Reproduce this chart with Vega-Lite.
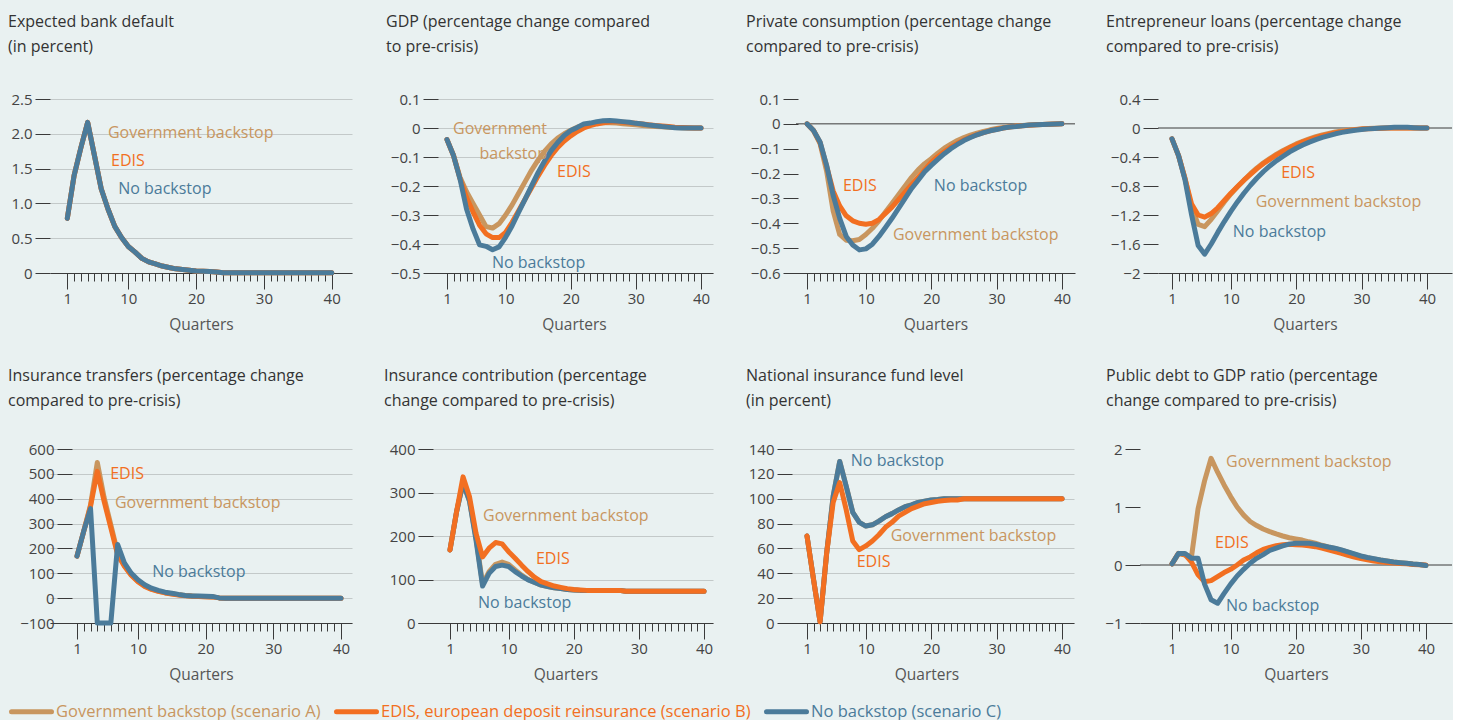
{
"$schema": "https://vega.github.io/schema/vega-lite/v6.json",
"background": "#e9f1f1",
"padding": {"left": 8, "top": 13, "right": 0, "bottom": 0},
"config": {
  "font": "Open Sans",
  "view": {"stroke": null},
  "title": {"anchor": "start", "frame": "group", "fontSize": 16, "fontWeight": "normal", "color": "#333333", "lineHeight": 25, "offset": 37.5},
  "axis": {"labelFontSize": 15, "labelColor": "#444444", "titleFontSize": 15.5, "titleFontWeight": "normal", "titleColor": "#555555", "tickCount": 100},
  "axisY": {"domain": false, "tickSize": 15, "tickColor": "#3a3a3a", "gridColor": "#c3c9c9", "labelPadding": 3, "title": null, "labelOverlap": false},
  "axisX": {"grid": false, "domainColor": "#3a3a3a", "tickColor": "#3a3a3a", "labelPadding": 2, "titlePadding": 11, "labelOverlap": false, "labelFlush": false}
},
"datasets": {
"lines": [
{"p":1,"q":1,"gov":0.785,"edis":0.785,"none":0.785},{"p":1,"q":2,"gov":1.4,"edis":1.4,"none":1.4},{"p":1,"q":3,"gov":1.8,"edis":1.8,"none":1.8},{"p":1,"q":4,"gov":2.165,"edis":2.165,"none":2.165},{"p":1,"q":5,"gov":1.69,"edis":1.69,"none":1.69},{"p":1,"q":6,"gov":1.21,"edis":1.21,"none":1.21},{"p":1,"q":7,"gov":0.92,"edis":0.92,"none":0.92},{"p":1,"q":8,"gov":0.67,"edis":0.67,"none":0.67},{"p":1,"q":9,"gov":0.51,"edis":0.51,"none":0.51},{"p":1,"q":10,"gov":0.38,"edis":0.38,"none":0.38},
{"p":1,"q":11,"gov":0.3,"edis":0.3,"none":0.3},{"p":1,"q":12,"gov":0.21,"edis":0.21,"none":0.21},{"p":1,"q":13,"gov":0.16,"edis":0.16,"none":0.16},{"p":1,"q":14,"gov":0.13,"edis":0.13,"none":0.13},{"p":1,"q":15,"gov":0.1,"edis":0.1,"none":0.1},{"p":1,"q":16,"gov":0.08,"edis":0.08,"none":0.08},{"p":1,"q":17,"gov":0.06,"edis":0.06,"none":0.06},{"p":1,"q":18,"gov":0.05,"edis":0.05,"none":0.05},{"p":1,"q":19,"gov":0.04,"edis":0.04,"none":0.04},{"p":1,"q":20,"gov":0.03,"edis":0.03,"none":0.03},
{"p":1,"q":21,"gov":0.025,"edis":0.025,"none":0.025},{"p":1,"q":22,"gov":0.02,"edis":0.02,"none":0.02},{"p":1,"q":23,"gov":0.015,"edis":0.015,"none":0.015},{"p":1,"q":24,"gov":0.005,"edis":0.005,"none":0.005},{"p":1,"q":25,"gov":0.005,"edis":0.005,"none":0.005},{"p":1,"q":26,"gov":0.005,"edis":0.005,"none":0.005},{"p":1,"q":27,"gov":0.005,"edis":0.005,"none":0.005},{"p":1,"q":28,"gov":0.005,"edis":0.005,"none":0.005},{"p":1,"q":29,"gov":0.005,"edis":0.005,"none":0.005},{"p":1,"q":30,"gov":0.005,"edis":0.005,"none":0.005},
{"p":1,"q":31,"gov":0.005,"edis":0.005,"none":0.005},{"p":1,"q":32,"gov":0.005,"edis":0.005,"none":0.005},{"p":1,"q":33,"gov":0.005,"edis":0.005,"none":0.005},{"p":1,"q":34,"gov":0.005,"edis":0.005,"none":0.005},{"p":1,"q":35,"gov":0.005,"edis":0.005,"none":0.005},{"p":1,"q":36,"gov":0.005,"edis":0.005,"none":0.005},{"p":1,"q":37,"gov":0.005,"edis":0.005,"none":0.005},{"p":1,"q":38,"gov":0.005,"edis":0.005,"none":0.005},{"p":1,"q":39,"gov":0.005,"edis":0.005,"none":0.005},{"p":1,"q":40,"gov":0.005,"edis":0.005,"none":0.005},

{"p":2,"q":1,"gov":-0.04,"edis":-0.04,"none":-0.04},{"p":2,"q":2,"gov":-0.095,"edis":-0.095,"none":-0.095},{"p":2,"q":3,"gov":-0.17,"edis":-0.175,"none":-0.176},{"p":2,"q":4,"gov":-0.22,"edis":-0.24,"none":-0.279},{"p":2,"q":5,"gov":-0.26,"edis":-0.29,"none":-0.348},{"p":2,"q":6,"gov":-0.3,"edis":-0.335,"none":-0.403},{"p":2,"q":7,"gov":-0.34,"edis":-0.365,"none":-0.408},{"p":2,"q":8,"gov":-0.345,"edis":-0.378,"none":-0.42},{"p":2,"q":9,"gov":-0.33,"edis":-0.378,"none":-0.41},{"p":2,"q":10,"gov":-0.3,"edis":-0.36,"none":-0.377},
{"p":2,"q":11,"gov":-0.265,"edis":-0.325,"none":-0.337},{"p":2,"q":12,"gov":-0.225,"edis":-0.285,"none":-0.29},{"p":2,"q":13,"gov":-0.185,"edis":-0.245,"none":-0.245},{"p":2,"q":14,"gov":-0.145,"edis":-0.205,"none":-0.199},{"p":2,"q":15,"gov":-0.11,"edis":-0.165,"none":-0.153},{"p":2,"q":16,"gov":-0.08,"edis":-0.128,"none":-0.113},{"p":2,"q":17,"gov":-0.055,"edis":-0.095,"none":-0.078},{"p":2,"q":18,"gov":-0.035,"edis":-0.067,"none":-0.05},{"p":2,"q":19,"gov":-0.02,"edis":-0.045,"none":-0.026},{"p":2,"q":20,"gov":-0.008,"edis":-0.027,"none":-0.009},
{"p":2,"q":21,"gov":0.003,"edis":-0.012,"none":0.002},{"p":2,"q":22,"gov":0.01,"edis":0,"none":0.014},{"p":2,"q":23,"gov":0.014,"edis":0.008,"none":0.017},{"p":2,"q":24,"gov":0.017,"edis":0.014,"none":0.022},{"p":2,"q":25,"gov":0.018,"edis":0.018,"none":0.025},{"p":2,"q":26,"gov":0.018,"edis":0.021,"none":0.026},{"p":2,"q":27,"gov":0.017,"edis":0.022,"none":0.024},{"p":2,"q":28,"gov":0.015,"edis":0.02,"none":0.022},{"p":2,"q":29,"gov":0.013,"edis":0.018,"none":0.02},{"p":2,"q":30,"gov":0.011,"edis":0.016,"none":0.016},
{"p":2,"q":31,"gov":0.009,"edis":0.014,"none":0.014},{"p":2,"q":32,"gov":0.007,"edis":0.011,"none":0.01},{"p":2,"q":33,"gov":0.005,"edis":0.009,"none":0.008},{"p":2,"q":34,"gov":0.004,"edis":0.007,"none":0.005},{"p":2,"q":35,"gov":0.003,"edis":0.005,"none":0.003},{"p":2,"q":36,"gov":0.002,"edis":0.003,"none":0.001},{"p":2,"q":37,"gov":0.001,"edis":0.002,"none":0},{"p":2,"q":38,"gov":0,"edis":0.001,"none":0},{"p":2,"q":39,"gov":0,"edis":0,"none":0},{"p":2,"q":40,"gov":0,"edis":0,"none":0},

{"p":3,"q":1,"gov":0,"edis":0,"none":0},{"p":3,"q":2,"gov":-0.027,"edis":-0.027,"none":-0.027},{"p":3,"q":3,"gov":-0.08,"edis":-0.075,"none":-0.073},{"p":3,"q":4,"gov":-0.19,"edis":-0.17,"none":-0.167},{"p":3,"q":5,"gov":-0.35,"edis":-0.27,"none":-0.287},{"p":3,"q":6,"gov":-0.445,"edis":-0.33,"none":-0.38},{"p":3,"q":7,"gov":-0.468,"edis":-0.37,"none":-0.453},{"p":3,"q":8,"gov":-0.47,"edis":-0.39,"none":-0.487},{"p":3,"q":9,"gov":-0.465,"edis":-0.4,"none":-0.507},{"p":3,"q":10,"gov":-0.445,"edis":-0.404,"none":-0.503},
{"p":3,"q":11,"gov":-0.42,"edis":-0.4,"none":-0.484},{"p":3,"q":12,"gov":-0.39,"edis":-0.385,"none":-0.453},{"p":3,"q":13,"gov":-0.355,"edis":-0.36,"none":-0.417},{"p":3,"q":14,"gov":-0.32,"edis":-0.335,"none":-0.38},{"p":3,"q":15,"gov":-0.285,"edis":-0.305,"none":-0.34},{"p":3,"q":16,"gov":-0.25,"edis":-0.275,"none":-0.3},{"p":3,"q":17,"gov":-0.215,"edis":-0.245,"none":-0.26},{"p":3,"q":18,"gov":-0.185,"edis":-0.215,"none":-0.227},{"p":3,"q":19,"gov":-0.16,"edis":-0.185,"none":-0.193},{"p":3,"q":20,"gov":-0.14,"edis":-0.155,"none":-0.167},
{"p":3,"q":21,"gov":-0.118,"edis":-0.132,"none":-0.143},{"p":3,"q":22,"gov":-0.098,"edis":-0.112,"none":-0.12},{"p":3,"q":23,"gov":-0.082,"edis":-0.094,"none":-0.1},{"p":3,"q":24,"gov":-0.067,"edis":-0.079,"none":-0.083},{"p":3,"q":25,"gov":-0.055,"edis":-0.065,"none":-0.067},{"p":3,"q":26,"gov":-0.045,"edis":-0.053,"none":-0.055},{"p":3,"q":27,"gov":-0.037,"edis":-0.043,"none":-0.044},{"p":3,"q":28,"gov":-0.03,"edis":-0.035,"none":-0.035},{"p":3,"q":29,"gov":-0.024,"edis":-0.028,"none":-0.028},{"p":3,"q":30,"gov":-0.019,"edis":-0.022,"none":-0.023},
{"p":3,"q":31,"gov":-0.015,"edis":-0.017,"none":-0.017},{"p":3,"q":32,"gov":-0.012,"edis":-0.013,"none":-0.013},{"p":3,"q":33,"gov":-0.009,"edis":-0.01,"none":-0.011},{"p":3,"q":34,"gov":-0.007,"edis":-0.008,"none":-0.008},{"p":3,"q":35,"gov":-0.005,"edis":-0.006,"none":-0.005},{"p":3,"q":36,"gov":-0.004,"edis":-0.004,"none":-0.004},{"p":3,"q":37,"gov":-0.003,"edis":-0.003,"none":-0.003},{"p":3,"q":38,"gov":-0.002,"edis":-0.002,"none":-0.002},{"p":3,"q":39,"gov":-0.001,"edis":-0.001,"none":-0.001},{"p":3,"q":40,"gov":0,"edis":0,"none":0},

{"p":4,"q":1,"gov":-0.15,"edis":-0.15,"none":-0.15},{"p":4,"q":2,"gov":-0.38,"edis":-0.38,"none":-0.38},{"p":4,"q":3,"gov":-0.7,"edis":-0.7,"none":-0.72},{"p":4,"q":4,"gov":-1.1,"edis":-1.05,"none":-1.2},{"p":4,"q":5,"gov":-1.33,"edis":-1.2,"none":-1.62},{"p":4,"q":6,"gov":-1.36,"edis":-1.23,"none":-1.74},{"p":4,"q":7,"gov":-1.26,"edis":-1.18,"none":-1.6},{"p":4,"q":8,"gov":-1.14,"edis":-1.1,"none":-1.44},{"p":4,"q":9,"gov":-1.02,"edis":-1.0,"none":-1.29},{"p":4,"q":10,"gov":-0.91,"edis":-0.9,"none":-1.15},
{"p":4,"q":11,"gov":-0.81,"edis":-0.81,"none":-1.02},{"p":4,"q":12,"gov":-0.72,"edis":-0.72,"none":-0.9},{"p":4,"q":13,"gov":-0.63,"edis":-0.64,"none":-0.79},{"p":4,"q":14,"gov":-0.55,"edis":-0.56,"none":-0.69},{"p":4,"q":15,"gov":-0.48,"edis":-0.49,"none":-0.6},{"p":4,"q":16,"gov":-0.42,"edis":-0.43,"none":-0.52},{"p":4,"q":17,"gov":-0.36,"edis":-0.37,"none":-0.45},{"p":4,"q":18,"gov":-0.31,"edis":-0.32,"none":-0.39},{"p":4,"q":19,"gov":-0.265,"edis":-0.27,"none":-0.33},{"p":4,"q":20,"gov":-0.22,"edis":-0.23,"none":-0.28},
{"p":4,"q":21,"gov":-0.185,"edis":-0.19,"none":-0.235},{"p":4,"q":22,"gov":-0.15,"edis":-0.16,"none":-0.195},{"p":4,"q":23,"gov":-0.12,"edis":-0.13,"none":-0.16},{"p":4,"q":24,"gov":-0.095,"edis":-0.105,"none":-0.13},{"p":4,"q":25,"gov":-0.075,"edis":-0.085,"none":-0.105},{"p":4,"q":26,"gov":-0.055,"edis":-0.065,"none":-0.08},{"p":4,"q":27,"gov":-0.04,"edis":-0.05,"none":-0.06},{"p":4,"q":28,"gov":-0.03,"edis":-0.035,"none":-0.045},{"p":4,"q":29,"gov":-0.02,"edis":-0.025,"none":-0.03},{"p":4,"q":30,"gov":-0.012,"edis":-0.015,"none":-0.02},
{"p":4,"q":31,"gov":-0.008,"edis":-0.01,"none":-0.012},{"p":4,"q":32,"gov":-0.005,"edis":-0.006,"none":-0.006},{"p":4,"q":33,"gov":-0.003,"edis":-0.003,"none":0},{"p":4,"q":34,"gov":-0.001,"edis":-0.001,"none":0.005},{"p":4,"q":35,"gov":0,"edis":0,"none":0.01},{"p":4,"q":36,"gov":0,"edis":0,"none":0.012},{"p":4,"q":37,"gov":0,"edis":0,"none":0.01},{"p":4,"q":38,"gov":0,"edis":0,"none":0.005},{"p":4,"q":39,"gov":0,"edis":0,"none":0},{"p":4,"q":40,"gov":0,"edis":0,"none":0},

{"p":5,"q":1,"gov":169,"edis":169,"none":169},{"p":5,"q":2,"gov":270,"edis":270,"none":270},{"p":5,"q":3,"gov":375,"edis":370,"none":360},{"p":5,"q":4,"gov":546,"edis":510,"none":-100},{"p":5,"q":5,"gov":405,"edis":390,"none":-100},{"p":5,"q":6,"gov":295,"edis":283,"none":-100},{"p":5,"q":7,"gov":182,"edis":175,"none":216},{"p":5,"q":8,"gov":132,"edis":128,"none":142},{"p":5,"q":9,"gov":95,"edis":92,"none":101},{"p":5,"q":10,"gov":68,"edis":66,"none":74},
{"p":5,"q":11,"gov":49,"edis":47,"none":54},{"p":5,"q":12,"gov":37,"edis":35,"none":40},{"p":5,"q":13,"gov":28,"edis":27,"none":31},{"p":5,"q":14,"gov":22,"edis":21,"none":24},{"p":5,"q":15,"gov":18,"edis":17,"none":20},{"p":5,"q":16,"gov":14,"edis":13,"none":15},{"p":5,"q":17,"gov":11,"edis":10,"none":11},{"p":5,"q":18,"gov":9,"edis":8,"none":9},{"p":5,"q":19,"gov":7,"edis":7,"none":9},{"p":5,"q":20,"gov":6,"edis":6,"none":8},
{"p":5,"q":21,"gov":5,"edis":5,"none":7},{"p":5,"q":22,"gov":1,"edis":1,"none":1},{"p":5,"q":23,"gov":0,"edis":0,"none":0},{"p":5,"q":24,"gov":0,"edis":0,"none":0},{"p":5,"q":25,"gov":0,"edis":0,"none":0},{"p":5,"q":26,"gov":0,"edis":0,"none":0},{"p":5,"q":27,"gov":0,"edis":0,"none":0},{"p":5,"q":28,"gov":0,"edis":0,"none":0},{"p":5,"q":29,"gov":0,"edis":0,"none":0},{"p":5,"q":30,"gov":0,"edis":0,"none":0},
{"p":5,"q":31,"gov":0,"edis":0,"none":0},{"p":5,"q":32,"gov":0,"edis":0,"none":0},{"p":5,"q":33,"gov":0,"edis":0,"none":0},{"p":5,"q":34,"gov":0,"edis":0,"none":0},{"p":5,"q":35,"gov":0,"edis":0,"none":0},{"p":5,"q":36,"gov":0,"edis":0,"none":0},{"p":5,"q":37,"gov":0,"edis":0,"none":0},{"p":5,"q":38,"gov":0,"edis":0,"none":0},{"p":5,"q":39,"gov":0,"edis":0,"none":0},{"p":5,"q":40,"gov":0,"edis":0,"none":0},

{"p":6,"q":1,"gov":168,"edis":168,"none":168},{"p":6,"q":2,"gov":255,"edis":255,"none":255},{"p":6,"q":3,"gov":322,"edis":336,"none":322},{"p":6,"q":4,"gov":280,"edis":290,"none":280},{"p":6,"q":5,"gov":195,"edis":206,"none":190},{"p":6,"q":6,"gov":90,"edis":152,"none":85},{"p":6,"q":7,"gov":118,"edis":172,"none":114},{"p":6,"q":8,"gov":135,"edis":185,"none":130},{"p":6,"q":9,"gov":140,"edis":182,"none":133},{"p":6,"q":10,"gov":135,"edis":164,"none":130},
{"p":6,"q":11,"gov":122,"edis":149,"none":118},{"p":6,"q":12,"gov":110,"edis":133,"none":108},{"p":6,"q":13,"gov":100,"edis":118,"none":99},{"p":6,"q":14,"gov":93,"edis":105,"none":93},{"p":6,"q":15,"gov":87,"edis":95,"none":87},{"p":6,"q":16,"gov":84,"edis":90,"none":84},{"p":6,"q":17,"gov":81,"edis":85,"none":81},{"p":6,"q":18,"gov":79,"edis":82,"none":79},{"p":6,"q":19,"gov":77,"edis":79,"none":77},{"p":6,"q":20,"gov":76,"edis":77,"none":76},
{"p":6,"q":21,"gov":75,"edis":76,"none":75},{"p":6,"q":22,"gov":75,"edis":75,"none":75},{"p":6,"q":23,"gov":75,"edis":75,"none":75},{"p":6,"q":24,"gov":75,"edis":75,"none":75},{"p":6,"q":25,"gov":75,"edis":75,"none":75},{"p":6,"q":26,"gov":75,"edis":75,"none":75},{"p":6,"q":27,"gov":75,"edis":75,"none":75},{"p":6,"q":28,"gov":73,"edis":73,"none":73},{"p":6,"q":29,"gov":73,"edis":73,"none":73},{"p":6,"q":30,"gov":73,"edis":73,"none":73},
{"p":6,"q":31,"gov":73,"edis":73,"none":73},{"p":6,"q":32,"gov":73,"edis":73,"none":73},{"p":6,"q":33,"gov":73,"edis":73,"none":73},{"p":6,"q":34,"gov":73,"edis":73,"none":73},{"p":6,"q":35,"gov":73,"edis":73,"none":73},{"p":6,"q":36,"gov":73,"edis":73,"none":73},{"p":6,"q":37,"gov":73,"edis":73,"none":73},{"p":6,"q":38,"gov":73,"edis":73,"none":73},{"p":6,"q":39,"gov":73,"edis":73,"none":73},{"p":6,"q":40,"gov":73,"edis":73,"none":73},

{"p":7,"q":1,"gov":70,"edis":70,"none":70},{"p":7,"q":2,"gov":35,"edis":35,"none":35},{"p":7,"q":3,"gov":1,"edis":1,"none":1},{"p":7,"q":4,"gov":56,"edis":56,"none":56},{"p":7,"q":5,"gov":102,"edis":97,"none":102},{"p":7,"q":6,"gov":130,"edis":113,"none":130},{"p":7,"q":7,"gov":110,"edis":91,"none":110},{"p":7,"q":8,"gov":89,"edis":66,"none":89},{"p":7,"q":9,"gov":81,"edis":59,"none":81},{"p":7,"q":10,"gov":78,"edis":62,"none":78},
{"p":7,"q":11,"gov":79,"edis":66,"none":79},{"p":7,"q":12,"gov":82,"edis":71,"none":82},{"p":7,"q":13,"gov":85.5,"edis":77,"none":85.5},{"p":7,"q":14,"gov":88,"edis":81,"none":88},{"p":7,"q":15,"gov":91,"edis":86,"none":91},{"p":7,"q":16,"gov":93.6,"edis":89,"none":93.6},{"p":7,"q":17,"gov":95,"edis":92,"none":95},{"p":7,"q":18,"gov":97,"edis":94,"none":97},{"p":7,"q":19,"gov":98,"edis":96,"none":98},{"p":7,"q":20,"gov":99,"edis":97,"none":99},
{"p":7,"q":21,"gov":99.3,"edis":98,"none":99.3},{"p":7,"q":22,"gov":100,"edis":98.5,"none":100},{"p":7,"q":23,"gov":100,"edis":99,"none":100},{"p":7,"q":24,"gov":100,"edis":99,"none":100},{"p":7,"q":25,"gov":100,"edis":100,"none":100},{"p":7,"q":26,"gov":100,"edis":100,"none":100},{"p":7,"q":27,"gov":100,"edis":100,"none":100},{"p":7,"q":28,"gov":100,"edis":100,"none":100},{"p":7,"q":29,"gov":100,"edis":100,"none":100},{"p":7,"q":30,"gov":100,"edis":100,"none":100},
{"p":7,"q":31,"gov":100,"edis":100,"none":100},{"p":7,"q":32,"gov":100,"edis":100,"none":100},{"p":7,"q":33,"gov":100,"edis":100,"none":100},{"p":7,"q":34,"gov":100,"edis":100,"none":100},{"p":7,"q":35,"gov":100,"edis":100,"none":100},{"p":7,"q":36,"gov":100,"edis":100,"none":100},{"p":7,"q":37,"gov":100,"edis":100,"none":100},{"p":7,"q":38,"gov":100,"edis":100,"none":100},{"p":7,"q":39,"gov":100,"edis":100,"none":100},{"p":7,"q":40,"gov":100,"edis":100,"none":100},

{"p":8,"q":1,"gov":0.02,"edis":0.02,"none":0.02},{"p":8,"q":2,"gov":0.2,"edis":0.2,"none":0.2},{"p":8,"q":3,"gov":0.17,"edis":0.18,"none":0.2},{"p":8,"q":4,"gov":0.15,"edis":0.05,"none":0.115},{"p":8,"q":5,"gov":0.97,"edis":-0.17,"none":0.115},{"p":8,"q":6,"gov":1.45,"edis":-0.29,"none":-0.33},{"p":8,"q":7,"gov":1.84,"edis":-0.27,"none":-0.6},{"p":8,"q":8,"gov":1.6,"edis":-0.2,"none":-0.66},{"p":8,"q":9,"gov":1.38,"edis":-0.13,"none":-0.49},{"p":8,"q":10,"gov":1.18,"edis":-0.075,"none":-0.33},
{"p":8,"q":11,"gov":1.0,"edis":0,"none":-0.19},{"p":8,"q":12,"gov":0.86,"edis":0.086,"none":-0.075},{"p":8,"q":13,"gov":0.75,"edis":0.14,"none":0.03},{"p":8,"q":14,"gov":0.68,"edis":0.21,"none":0.115},{"p":8,"q":15,"gov":0.62,"edis":0.27,"none":0.18},{"p":8,"q":16,"gov":0.575,"edis":0.305,"none":0.25},{"p":8,"q":17,"gov":0.535,"edis":0.333,"none":0.29},{"p":8,"q":18,"gov":0.5,"edis":0.35,"none":0.33},{"p":8,"q":19,"gov":0.47,"edis":0.356,"none":0.36},{"p":8,"q":20,"gov":0.45,"edis":0.35,"none":0.375},
{"p":8,"q":21,"gov":0.43,"edis":0.345,"none":0.375},{"p":8,"q":22,"gov":0.4,"edis":0.333,"none":0.375},{"p":8,"q":23,"gov":0.375,"edis":0.316,"none":0.36},{"p":8,"q":24,"gov":0.34,"edis":0.29,"none":0.335},{"p":8,"q":25,"gov":0.31,"edis":0.26,"none":0.31},{"p":8,"q":26,"gov":0.285,"edis":0.23,"none":0.29},{"p":8,"q":27,"gov":0.255,"edis":0.2,"none":0.26},{"p":8,"q":28,"gov":0.22,"edis":0.167,"none":0.225},{"p":8,"q":29,"gov":0.185,"edis":0.138,"none":0.19},{"p":8,"q":30,"gov":0.15,"edis":0.11,"none":0.155},
{"p":8,"q":31,"gov":0.125,"edis":0.09,"none":0.13},{"p":8,"q":32,"gov":0.105,"edis":0.07,"none":0.11},{"p":8,"q":33,"gov":0.085,"edis":0.055,"none":0.086},{"p":8,"q":34,"gov":0.07,"edis":0.045,"none":0.07},{"p":8,"q":35,"gov":0.052,"edis":0.035,"none":0.052},{"p":8,"q":36,"gov":0.04,"edis":0.025,"none":0.04},{"p":8,"q":37,"gov":0.03,"edis":0.02,"none":0.03},{"p":8,"q":38,"gov":0.017,"edis":0.01,"none":0.017},{"p":8,"q":39,"gov":0.01,"edis":0.005,"none":0.01},{"p":8,"q":40,"gov":-0.01,"edis":0,"none":-0.01}
],
"labels": [
{"p":1,"s":"gov","q":7.0,"v":2.01,"t":"Government backstop"},
{"p":1,"s":"edis","q":7.45,"v":1.61,"t":"EDIS"},
{"p":1,"s":"none","q":8.5,"v":1.21,"t":"No backstop"},
{"p":2,"s":"gov","q":16.35,"v":-0.002,"t":"Government\nbackstop"},
{"p":2,"s":"edis","q":17.9,"v":-0.152,"t":"EDIS"},
{"p":2,"s":"none","q":7.9,"v":-0.466,"t":"No backstop"},
{"p":3,"s":"edis","q":6.5,"v":-0.252,"t":"EDIS"},
{"p":3,"s":"none","q":20.4,"v":-0.252,"t":"No backstop"},
{"p":3,"s":"gov","q":14.15,"v":-0.448,"t":"Government backstop"},
{"p":4,"s":"edis","q":17.7,"v":-0.62,"t":"EDIS"},
{"p":4,"s":"gov","q":13.8,"v":-1.02,"t":"Government backstop"},
{"p":4,"s":"none","q":10.3,"v":-1.43,"t":"No backstop"},
{"p":5,"s":"edis","q":5.9,"v":499,"t":"EDIS"},
{"p":5,"s":"gov","q":6.6,"v":382,"t":"Government backstop"},
{"p":5,"s":"none","q":12.1,"v":106,"t":"No backstop"},
{"p":6,"s":"gov","q":6.07,"v":246,"t":"Government backstop"},
{"p":6,"s":"edis","q":14.2,"v":147,"t":"EDIS"},
{"p":6,"s":"none","q":5.3,"v":46,"t":"No backstop"},
{"p":7,"s":"none","q":7.7,"v":130,"t":"No backstop"},
{"p":7,"s":"gov","q":13.8,"v":70,"t":"Government backstop"},
{"p":7,"s":"edis","q":8.6,"v":49,"t":"EDIS"},
{"p":8,"s":"gov","q":9.3,"v":1.78,"t":"Government backstop"},
{"p":8,"s":"edis","q":7.6,"v":0.38,"t":"EDIS"},
{"p":8,"s":"none","q":9.3,"v":-0.71,"t":"No backstop"}
]
},
"spacing": 34,
"vconcat": [
{"bounds": "flush", "spacing": 83, "hconcat": [
{"width": 302, "height": 174, "title": {"text": ["Expected bank default", "(in percent)"], "dx": -42},
 "layer": [
  {"data": {"name": "lines"}, "transform": [{"filter": "datum.p == 1"}, {"fold": ["gov","edis","none"], "as": ["s","v"]}],
   "mark": {"type": "line", "strokeWidth": 5, "strokeCap": "round", "strokeJoin": "round"},
   "encoding": {
    "x": {"field": "q", "type": "quantitative", "title": "Quarters", "scale": {"domain": [-1.552, 42.995], "nice": false, "zero": false},
      "axis": {"values": [1,2,3,4,5,6,7,8,9,10,11,12,13,14,15,16,17,18,19,20,21,22,23,24,25,26,27,28,29,30,31,32,33,34,35,36,37,38,39,40], "labelExpr": "datum.value == 1 || datum.value % 10 == 0 ? format(datum.value, 'd') : ''", "tickSize": {"condition": {"test": "datum.value == 1 || datum.value % 10 == 0", "value": 16}, "value": 8}}},
    "y": {"field": "v", "type": "quantitative", "scale": {"domain": [0, 2.5], "nice": false, "zero": false},
      "axis": {"values": [0,0.5,1,1.5,2,2.5], "labelExpr": "datum.value == 0 ? '0' : format(datum.value, '.1f')"}},
    "color": {"field": "s", "type": "nominal", "scale": {"domain": ["gov","edis","none"], "range": ["#c8965f","#f26f21","#4b7b9a"]},
      "legend": {"orient": "none", "legendX": -31, "legendY": 600, "direction": "horizontal", "title": null, "symbolType": "M-2,0L2,0", "symbolSize": 400, "symbolStrokeWidth": 5, "labelFontSize": 16.5, "labelLimit": 600, "columnPadding": 5, "labelOffset": 12, "padding": 0,
        "labelExpr": "datum.value == 'gov' ? 'Government backstop (scenario A)' : datum.value == 'edis' ? 'EDIS, european deposit reinsurance (scenario B)' : 'No backstop (scenario C)'",
        "encode": {"labels": {"update": {"fill": {"scale": "color", "field": "value"}}}, "symbols": {"update": {"strokeCap": {"value": "round"}}}}}}
   }},
  {"data": {"name": "labels"}, "transform": [{"filter": "datum.p == 1"}],
   "mark": {"type": "text", "align": "left", "baseline": "middle", "fontSize": 16},
   "encoding": {"x": {"field": "q", "type": "quantitative"}, "y": {"field": "v", "type": "quantitative"}, "text": {"field": "t"},
     "fill": {"field": "s", "type": "nominal", "scale": {"domain": ["gov","edis","none"], "range": ["#c8965f","#f26f21","#4b7b9a"]}, "legend": null}}}
 ]},
{"width": 278, "height": 174, "title": {"text": ["GDP (percentage change compared", "to pre-crisis)"], "dx": -49},
 "layer": [
  {"data": {"name": "lines"}, "transform": [{"filter": "datum.p == 2"}, {"fold": ["gov","edis","none"], "as": ["s","v"]}],
   "mark": {"type": "line", "strokeWidth": 5, "strokeCap": "round", "strokeJoin": "round"},
   "encoding": {
    "x": {"field": "q", "type": "quantitative", "title": "Quarters", "scale": {"domain": [-0.842, 41.842], "nice": false, "zero": false},
      "axis": {"values": [1,2,3,4,5,6,7,8,9,10,11,12,13,14,15,16,17,18,19,20,21,22,23,24,25,26,27,28,29,30,31,32,33,34,35,36,37,38,39,40], "labelExpr": "datum.value == 1 || datum.value % 10 == 0 ? format(datum.value, 'd') : ''", "tickSize": {"condition": {"test": "datum.value == 1 || datum.value % 10 == 0", "value": 16}, "value": 8}}},
    "y": {"field": "v", "type": "quantitative", "scale": {"domain": [-0.5, 0.1], "nice": false, "zero": false},
      "axis": {"values": [-0.5,-0.4,-0.3,-0.2,-0.1,0,0.1], "offset": -3, "labelExpr": "datum.value == 0 ? '0' : format(datum.value, '.1f')"}},
    "color": {"field": "s", "type": "nominal", "scale": {"domain": ["gov","edis","none"], "range": ["#c8965f","#f26f21","#4b7b9a"]}}
   }},
  {"data": {"name": "labels"}, "transform": [{"filter": "datum.p == 2 && datum.s != 'gov'"}],
   "mark": {"type": "text", "align": "left", "baseline": "middle", "fontSize": 16},
   "encoding": {"x": {"field": "q", "type": "quantitative"}, "y": {"field": "v", "type": "quantitative"}, "text": {"field": "t"},
     "fill": {"field": "s", "type": "nominal", "scale": {"domain": ["gov","edis","none"], "range": ["#c8965f","#f26f21","#4b7b9a"]}, "legend": null}}},
  {"data": {"name": "labels"}, "transform": [{"filter": "datum.p == 2 && datum.s == 'gov'"}],
   "mark": {"type": "text", "align": "right", "baseline": "middle", "fontSize": 16, "lineBreak": "\n", "lineHeight": 25},
   "encoding": {"x": {"field": "q", "type": "quantitative"}, "y": {"field": "v", "type": "quantitative"}, "text": {"field": "t"},
     "fill": {"field": "s", "type": "nominal", "scale": {"domain": ["gov","edis","none"], "range": ["#c8965f","#f26f21","#4b7b9a"]}, "legend": null}}}
 ]},
{"width": 279, "height": 174, "title": {"text": ["Private consumption (percentage change", "compared to pre-crisis)"], "dx": -50},
 "layer": [
  {"data": {"values": [{}]}, "mark": {"type": "rule", "color": "#3a3a3a", "strokeWidth": 1}, "encoding": {"y": {"datum": 0}}},
  {"data": {"name": "lines"}, "transform": [{"filter": "datum.p == 3"}, {"fold": ["gov","edis","none"], "as": ["s","v"]}],
   "mark": {"type": "line", "strokeWidth": 5, "strokeCap": "round", "strokeJoin": "round"},
   "encoding": {
    "x": {"field": "q", "type": "quantitative", "title": "Quarters", "scale": {"domain": [-0.682, 41.988], "nice": false, "zero": false},
      "axis": {"values": [1,2,3,4,5,6,7,8,9,10,11,12,13,14,15,16,17,18,19,20,21,22,23,24,25,26,27,28,29,30,31,32,33,34,35,36,37,38,39,40], "labelExpr": "datum.value == 1 || datum.value % 10 == 0 ? format(datum.value, 'd') : ''", "tickSize": {"condition": {"test": "datum.value == 1 || datum.value % 10 == 0", "value": 16}, "value": 8}}},
    "y": {"field": "v", "type": "quantitative", "scale": {"domain": [-0.6, 0.1], "nice": false, "zero": false},
      "axis": {"values": [-0.6,-0.5,-0.4,-0.3,-0.2,-0.1,0,0.1], "offset": -2, "labelExpr": "datum.value == 0 ? '0' : format(datum.value, '.1f')"}},
    "color": {"field": "s", "type": "nominal", "scale": {"domain": ["gov","edis","none"], "range": ["#c8965f","#f26f21","#4b7b9a"]}}
   }},
  {"data": {"name": "labels"}, "transform": [{"filter": "datum.p == 3"}],
   "mark": {"type": "text", "align": "left", "baseline": "middle", "fontSize": 16},
   "encoding": {"x": {"field": "q", "type": "quantitative"}, "y": {"field": "v", "type": "quantitative"}, "text": {"field": "t"},
     "fill": {"field": "s", "type": "nominal", "scale": {"domain": ["gov","edis","none"], "range": ["#c8965f","#f26f21","#4b7b9a"]}, "legend": null}}}
 ]},
{"width": 294, "height": 174, "title": {"text": ["Entrepreneur loans (percentage change", "compared to pre-crisis)"], "dx": -52},
 "layer": [
  {"data": {"values": [{}]}, "mark": {"type": "rule", "color": "#3a3a3a", "strokeWidth": 1}, "encoding": {"y": {"datum": 0}}},
  {"data": {"name": "lines"}, "transform": [{"filter": "datum.p == 4"}, {"fold": ["gov","edis","none"], "as": ["s","v"]}],
   "mark": {"type": "line", "strokeWidth": 5, "strokeCap": "round", "strokeJoin": "round"},
   "encoding": {
    "x": {"field": "q", "type": "quantitative", "title": "Quarters", "scale": {"domain": [-1.141, 43.824], "nice": false, "zero": false},
      "axis": {"values": [1,2,3,4,5,6,7,8,9,10,11,12,13,14,15,16,17,18,19,20,21,22,23,24,25,26,27,28,29,30,31,32,33,34,35,36,37,38,39,40], "labelExpr": "datum.value == 1 || datum.value % 10 == 0 ? format(datum.value, 'd') : ''", "tickSize": {"condition": {"test": "datum.value == 1 || datum.value % 10 == 0", "value": 16}, "value": 8}}},
    "y": {"field": "v", "type": "quantitative", "scale": {"domain": [-2, 0.4], "nice": false, "zero": false},
      "axis": {"values": [-2,-1.6,-1.2,-0.8,-0.4,0,0.4], "labelExpr": "format(datum.value, '~g')"}},
    "color": {"field": "s", "type": "nominal", "scale": {"domain": ["gov","edis","none"], "range": ["#c8965f","#f26f21","#4b7b9a"]}}
   }},
  {"data": {"name": "labels"}, "transform": [{"filter": "datum.p == 4"}],
   "mark": {"type": "text", "align": "left", "baseline": "middle", "fontSize": 16},
   "encoding": {"x": {"field": "q", "type": "quantitative"}, "y": {"field": "v", "type": "quantitative"}, "text": {"field": "t"},
     "fill": {"field": "s", "type": "nominal", "scale": {"domain": ["gov","edis","none"], "range": ["#c8965f","#f26f21","#4b7b9a"]}, "legend": null}}}
 ]}
]},
{"bounds": "flush", "spacing": 66, "hconcat": [
{"width": 302, "height": 174, "title": {"text": ["Insurance transfers (percentage change", "compared to pre-crisis)"], "offset": 33.5, "dx": -42},
 "layer": [
  {"data": {"name": "lines"}, "transform": [{"filter": "datum.p == 5"}, {"fold": ["gov","edis","none"], "as": ["s","v"]}],
   "mark": {"type": "line", "strokeWidth": 5, "strokeCap": "round", "strokeJoin": "round"},
   "encoding": {
    "x": {"field": "q", "type": "quantitative", "title": "Quarters", "scale": {"domain": [-2.989, 41.625], "nice": false, "zero": false},
      "axis": {"values": [1,2,3,4,5,6,7,8,9,10,11,12,13,14,15,16,17,18,19,20,21,22,23,24,25,26,27,28,29,30,31,32,33,34,35,36,37,38,39,40], "labelExpr": "datum.value == 1 || datum.value % 10 == 0 ? format(datum.value, 'd') : ''", "tickSize": {"condition": {"test": "datum.value == 1 || datum.value % 10 == 0", "value": 16}, "value": 8}}},
    "y": {"field": "v", "type": "quantitative", "scale": {"domain": [-100, 600], "nice": false, "zero": false},
      "axis": {"values": [-100,0,100,200,300,400,500,600], "offset": -22, "labelExpr": "format(datum.value, 'd')"}},
    "color": {"field": "s", "type": "nominal", "scale": {"domain": ["gov","edis","none"], "range": ["#c8965f","#f26f21","#4b7b9a"]}}
   }},
  {"data": {"name": "labels"}, "transform": [{"filter": "datum.p == 5"}],
   "mark": {"type": "text", "align": "left", "baseline": "middle", "fontSize": 16},
   "encoding": {"x": {"field": "q", "type": "quantitative"}, "y": {"field": "v", "type": "quantitative"}, "text": {"field": "t"},
     "fill": {"field": "s", "type": "nominal", "scale": {"domain": ["gov","edis","none"], "range": ["#c8965f","#f26f21","#4b7b9a"]}, "legend": null}}}
 ]},
{"width": 295, "height": 174, "title": {"text": ["Insurance contribution (percentage", "change compared to pre-crisis)"], "offset": 33.5, "dx": -34},
 "layer": [
  {"data": {"name": "lines"}, "transform": [{"filter": "datum.p == 6"}, {"fold": ["gov","none","edis"], "as": ["s","v"]}],
   "mark": {"type": "line", "strokeWidth": 5, "strokeCap": "round", "strokeJoin": "round"},
   "encoding": {
    "x": {"field": "q", "type": "quantitative", "title": "Quarters", "scale": {"domain": [-3.913, 41.382], "nice": false, "zero": false},
      "axis": {"values": [1,2,3,4,5,6,7,8,9,10,11,12,13,14,15,16,17,18,19,20,21,22,23,24,25,26,27,28,29,30,31,32,33,34,35,36,37,38,39,40], "labelExpr": "datum.value == 1 || datum.value % 10 == 0 ? format(datum.value, 'd') : ''", "tickSize": {"condition": {"test": "datum.value == 1 || datum.value % 10 == 0", "value": 16}, "value": 8}}},
    "y": {"field": "v", "type": "quantitative", "scale": {"domain": [0, 400], "nice": false, "zero": false},
      "axis": {"values": [0,100,200,300,400], "offset": -15, "labelExpr": "format(datum.value, 'd')"}},
    "color": {"field": "s", "type": "nominal", "scale": {"domain": ["gov","edis","none"], "range": ["#c8965f","#f26f21","#4b7b9a"]}}
   }},
  {"data": {"name": "labels"}, "transform": [{"filter": "datum.p == 6"}],
   "mark": {"type": "text", "align": "left", "baseline": "middle", "fontSize": 16},
   "encoding": {"x": {"field": "q", "type": "quantitative"}, "y": {"field": "v", "type": "quantitative"}, "text": {"field": "t"},
     "fill": {"field": "s", "type": "nominal", "scale": {"domain": ["gov","edis","none"], "range": ["#c8965f","#f26f21","#4b7b9a"]}, "legend": null}}}
 ]},
{"width": 295, "height": 174, "title": {"text": ["National insurance fund level", "(in percent)"], "offset": 33.5, "dx": -33},
 "layer": [
  {"data": {"name": "lines"}, "transform": [{"filter": "datum.p == 7"}, {"fold": ["gov","none","edis"], "as": ["s","v"]}],
   "mark": {"type": "line", "strokeWidth": 5, "strokeCap": "round", "strokeJoin": "round"},
   "encoding": {
    "x": {"field": "q", "type": "quantitative", "title": "Quarters", "scale": {"domain": [-3.283, 41.835], "nice": false, "zero": false},
      "axis": {"values": [1,2,3,4,5,6,7,8,9,10,11,12,13,14,15,16,17,18,19,20,21,22,23,24,25,26,27,28,29,30,31,32,33,34,35,36,37,38,39,40], "labelExpr": "datum.value == 1 || datum.value % 10 == 0 ? format(datum.value, 'd') : ''", "tickSize": {"condition": {"test": "datum.value == 1 || datum.value % 10 == 0", "value": 16}, "value": 8}}},
    "y": {"field": "v", "type": "quantitative", "scale": {"domain": [0, 140], "nice": false, "zero": false},
      "axis": {"values": [0,20,40,60,80,100,120,140], "offset": -13, "labelExpr": "format(datum.value, 'd')"}},
    "color": {"field": "s", "type": "nominal", "scale": {"domain": ["gov","edis","none"], "range": ["#c8965f","#f26f21","#4b7b9a"]}}
   }},
  {"data": {"name": "labels"}, "transform": [{"filter": "datum.p == 7"}],
   "mark": {"type": "text", "align": "left", "baseline": "middle", "fontSize": 16},
   "encoding": {"x": {"field": "q", "type": "quantitative"}, "y": {"field": "v", "type": "quantitative"}, "text": {"field": "t"},
     "fill": {"field": "s", "type": "nominal", "scale": {"domain": ["gov","edis","none"], "range": ["#c8965f","#f26f21","#4b7b9a"]}, "legend": null}}}
 ]},
{"width": 312, "height": 174, "title": {"text": ["Public debt to GDP ratio (percentage", "change compared to pre-crisis)"], "offset": 33.5, "dx": -34},
 "layer": [
  {"data": {"values": [{}]}, "mark": {"type": "rule", "color": "#3a3a3a", "strokeWidth": 1}, "encoding": {"y": {"datum": 0}}},
  {"data": {"name": "lines"}, "transform": [{"filter": "datum.p == 8"}, {"fold": ["gov","edis","none"], "as": ["s","v"]}],
   "mark": {"type": "line", "strokeWidth": 5, "strokeCap": "round", "strokeJoin": "round"},
   "encoding": {
    "x": {"field": "q", "type": "quantitative", "title": "Quarters", "scale": {"domain": [-3.913, 43.99], "nice": false, "zero": false},
      "axis": {"values": [1,2,3,4,5,6,7,8,9,10,11,12,13,14,15,16,17,18,19,20,21,22,23,24,25,26,27,28,29,30,31,32,33,34,35,36,37,38,39,40], "labelExpr": "datum.value == 1 || datum.value % 10 == 0 ? format(datum.value, 'd') : ''", "tickSize": {"condition": {"test": "datum.value == 1 || datum.value % 10 == 0", "value": 16}, "value": 8}}},
    "y": {"field": "v", "type": "quantitative", "scale": {"domain": [-1, 2], "nice": false, "zero": false},
      "axis": {"values": [-1,0,1,2], "labelExpr": "format(datum.value, '~g')"}},
    "color": {"field": "s", "type": "nominal", "scale": {"domain": ["gov","edis","none"], "range": ["#c8965f","#f26f21","#4b7b9a"]}}
   }},
  {"data": {"name": "labels"}, "transform": [{"filter": "datum.p == 8"}],
   "mark": {"type": "text", "align": "left", "baseline": "middle", "fontSize": 16},
   "encoding": {"x": {"field": "q", "type": "quantitative"}, "y": {"field": "v", "type": "quantitative"}, "text": {"field": "t"},
     "fill": {"field": "s", "type": "nominal", "scale": {"domain": ["gov","edis","none"], "range": ["#c8965f","#f26f21","#4b7b9a"]}, "legend": null}}}
 ]}
]}
]
}
